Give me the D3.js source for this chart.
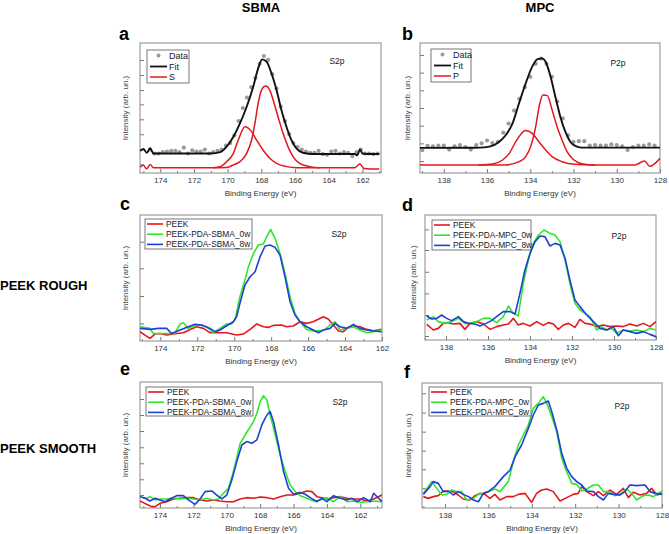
<!DOCTYPE html>
<html>
<head>
<meta charset="utf-8">
<script src="https://cdn.jsdelivr.net/npm/d3@7"></script>
<style>
body{margin:0;background:#fff}
svg{display:block;font-family:"Liberation Sans",Arial,sans-serif}
</style>
</head>
<body>
<div id="container"></div>
<script>
// ---- tick labels / categories
var sTicks = [174,172,170,168,166,164,162];
var pTicks = [138,136,134,132,130,128];
var sLegend = ["PEEK","PEEK-PDA-SBMA_0w","PEEK-PDA-SBMA_8w"];
var pLegend = ["PEEK","PEEK-PDA-MPC_0w","PEEK-PDA-MPC_8w"];
var fitLegendS = ["Data","Fit","S"];
var fitLegendP = ["Data","Fit","P"];

// unlabelled intensity ticks (arb. un.)
var yTicksA = [6.7,18.2,29.8,41.3,52.8,63.8,75.4,86.9];
var yTicksB = [9.2,22.8,36.4,50,63.6,77.2,90.8];
var yTicksC = [14,35.7,57.7,78.8];
var yTicksD = [3.2,20,37.3,54.6,72,88.5];
var yTicksE = [10.3,22.8,35.5,48.2,61.1,73.8,86.5];
var yTicksF = [15.8,31,45.9,61.1,76.3,91.8];

// ---- panel a : S2p fit (binding energy eV, intensity)
var aData = [[174.6,18],[174.35,15],[174.1,15],[173.85,16],[173.6,16.5],[173.35,17],[173.1,17],[172.85,16],[172.6,19.5],[172.35,15],[172.1,17.5],[171.85,16.5],[171.6,16.5],[171.35,18],[171.1,15],[170.85,16],[170.6,17],[170.35,18],[170.1,21],[169.85,23],[169.6,29],[169.35,40],[169.1,50],[168.85,58],[168.6,66],[168.35,73],[168.1,84],[167.85,90],[167.6,87],[167.35,76],[167.1,65],[166.85,51],[166.6,40],[166.35,30],[166.1,23],[165.85,20],[165.6,18],[165.35,16.5],[165.1,15.5],[164.85,15.5],[164.6,17],[164.35,14.5],[164.1,14],[163.85,16.5],[163.6,17],[163.35,15],[163.1,16],[162.85,15.5],[162.6,13],[162.35,16],[162.1,18],[161.85,15],[161.6,15],[161.35,14.5],[161.1,15]];
var aFit = [[175.2,17],[175.0,18.5],[174.8,15.5],[174.6,19],[174.4,15],[174.2,15],[173,15],[172,15],[171,15],[170.45,16],[170.06,20.3],[169.66,27.9],[169.27,38.2],[168.87,51],[168.48,66.4],[168.19,80.5],[167.95,87.4],[167.69,85.6],[167.4,76.7],[167.1,63.8],[166.81,48.5],[166.51,35.6],[166.22,25.4],[165.92,19],[165.53,15.6],[164.94,14.6],[163,14.6],[162.45,14.6],[162.3,13.6],[162.15,18.2],[162.0,15],[161.6,14.6],[161,14.6]];
var aS1 = [[175.2,4.5],[175.0,6],[174.8,3.2],[174.6,6.5],[174.4,4.1],[174,4.1],[171,4.1],[170.06,4.3],[169.66,6.2],[169.27,8.7],[168.87,15.1],[168.58,25.4],[168.38,38.2],[168.19,53.6],[167.99,63.8],[167.75,66.9],[167.5,63.8],[167.3,56.2],[167.01,43.3],[166.71,30.5],[166.42,20.3],[166.12,12.6],[165.73,7.4],[165.14,4.9],[164.55,4.1],[162.45,4.1],[162.15,6.9],[161.9,3.4],[161.5,3.1],[161,3.0]];
var aS2 = [[170.85,4.1],[170.45,4.9],[170.06,8.7],[169.66,15.1],[169.37,25.4],[168.97,35.6],[168.58,31.8],[168.29,25.4],[167.9,17.7],[167.5,11.3],[167.1,7.4],[166.51,4.9],[165.9,4.1],[164.5,4.1]];

// ---- panel b : P2p fit
var bData = [[139.0,17.5],[138.75,20.8],[138.5,20.5],[138.25,21],[138.0,21],[137.75,18],[137.5,20.5],[137.25,21.5],[137.0,20],[136.75,18],[136.5,21.5],[136.25,22.8],[136.0,25],[135.75,23],[135.5,24],[135.25,31],[135.0,38],[134.75,48],[134.5,57],[134.25,66],[134.0,74],[133.75,84],[133.5,88],[133.25,84],[133.0,74],[132.75,55],[132.5,42],[132.25,29],[132.0,24],[131.75,24.5],[131.5,24.5],[131.25,21],[131.0,21.5],[130.75,21],[130.5,21],[130.25,22],[130.0,21.5],[129.75,20.5],[129.5,17.7],[129.25,20],[129.0,21],[128.75,21],[128.5,22],[128.25,21]];
var bFit = [[139.1,19.3],[136.35,19.5],[135.89,20.3],[135.43,24.1],[135.13,29.2],[134.82,38.2],[134.52,53.6],[134.21,69],[133.91,81.8],[133.68,87.4],[133.45,88.2],[133.29,85.6],[133.06,74.1],[132.84,58.7],[132.61,43.3],[132.38,31.8],[132.15,24.1],[131.92,20.8],[131.62,19.5],[128,19.5]];
var bP1 = [[139.1,6.2],[135.13,6.2],[134.52,8.7],[134.21,12.6],[133.98,20.3],[133.75,35.6],[133.56,53.6],[133.41,60],[133.21,59.5],[132.99,48.5],[132.76,35.6],[132.53,25.4],[132.3,16.4],[132.07,11.3],[131.77,7.9],[131.31,6.4],[130.8,6.2],[129.17,6.2],[128.71,9.2],[128.48,5.1],[128.0,11.3]];
var bP2 = [[136.4,6.2],[135.74,6.9],[135.28,10],[134.97,15.1],[134.67,24.1],[134.21,32.6],[133.91,30.5],[133.6,24.1],[133.29,17.7],[132.99,12.6],[132.53,8.7],[131.92,6.7],[131.0,6.2]];

// ---- panel c : S2p, PEEK rough
var cPeek = [[175.1,7.4],[174.83,4.7],[174.56,2.1],[174.29,5.5],[174.02,6],[173.66,4.7],[173.11,6],[172.75,6.6],[172.39,9.2],[172.03,11.3],[171.67,10],[171.31,6.6],[170.95,6.8],[170.41,6.6],[169.87,4.7],[169.51,5.5],[169.14,9.2],[168.78,13.5],[168.42,11.3],[168.15,10.8],[167.88,12.4],[167.43,12.7],[167.16,11.3],[166.8,11.9],[166.44,15.3],[166.08,14],[165.72,15.3],[165.45,17.2],[165.17,19.3],[164.9,17.2],[164.63,12.7],[164.36,7.9],[164.09,7.4],[163.82,10.8],[163.55,11.9],[163.19,11.3],[162.83,9.2],[162.47,8.2],[162.02,9.2]];
var c0w = [[175.1,11.3],[174.56,10],[174.38,6],[173.66,6],[173.21,6],[172.93,13.5],[172.75,14.5],[172.48,10],[172.21,11.9],[171.85,12.7],[171.49,11.3],[171.13,6.6],[170.77,10],[170.41,13.5],[170.14,13.5],[169.96,16.6],[169.69,35.2],[169.42,48.4],[169.23,59],[168.96,69.5],[168.69,76.2],[168.42,77],[168.24,82.8],[168.03,88.6],[167.79,81.5],[167.52,69.5],[167.25,53.7],[166.98,35.2],[166.71,21.9],[166.44,15.3],[166.08,9.2],[165.72,7.9],[165.35,8.2],[165.08,9.2],[164.81,12.7],[164.54,15.3],[164.27,8.7],[163.91,10],[163.55,11.3],[163.19,8.7],[162.83,6.6],[162.47,7.4],[162.02,8.7]];
var c8w = [[175.1,10],[174.56,9.2],[174.11,10],[173.66,10],[173.39,6],[172.93,8.7],[172.48,11.3],[172.12,13.2],[171.76,12.7],[171.31,10],[171.04,7.4],[170.77,8.7],[170.41,12.1],[170.05,15.3],[169.87,19.3],[169.69,29.9],[169.42,44.4],[169.14,51],[168.87,55],[168.6,66.9],[168.33,75.4],[168.06,76.2],[167.79,74.3],[167.52,68.2],[167.25,51],[166.98,31.2],[166.71,20.6],[166.44,15.3],[166.08,11.3],[165.72,8.7],[165.45,6.6],[165.17,8.7],[164.81,10],[164.54,14],[164.27,11.3],[163.91,10],[163.55,13.2],[163.19,10],[162.83,8.7],[162.47,7.9],[162.02,7.4]];

// ---- panel d : P2p, PEEK rough
var dPeek = [[138.92,12.5],[138.6,8],[138.37,9.3],[138.13,13.3],[137.89,13.9],[137.65,12.8],[137.33,13.3],[137.1,8.5],[136.86,13.3],[136.54,14.7],[136.22,12.8],[135.9,8.5],[135.59,10.7],[135.27,12],[135.03,12.8],[134.79,17.3],[134.56,12],[134.32,13.3],[134.0,11.2],[133.68,14.7],[133.37,11.7],[133.13,13.9],[132.89,12.8],[132.65,8.5],[132.41,12],[132.17,13.3],[131.86,10.1],[131.62,16.5],[131.38,13.3],[131.14,12.8],[130.83,10.7],[130.51,12],[130.19,10.7],[129.87,11.2],[129.56,10.7],[129.24,12.8],[128.92,11.2],[128.6,13.3],[128.29,10.7],[128.0,14.7]];
var d0w = [[138.92,16],[138.6,18.7],[138.37,14.7],[138.05,13.3],[137.73,14.7],[137.41,17.3],[137.1,13.3],[136.86,13.3],[136.54,14.7],[136.22,17.3],[135.9,17.3],[135.59,13.9],[135.27,18.7],[135.03,27.2],[134.79,21.3],[134.56,19.2],[134.32,45.3],[134.08,64],[133.84,77.3],[133.6,84],[133.33,88],[133.05,85.3],[132.81,84],[132.57,78.7],[132.33,64],[132.1,45.3],[131.86,29.3],[131.62,24],[131.38,21.3],[131.14,18.7],[130.83,8],[130.59,10.7],[130.35,8],[130.11,9.3],[129.87,5.3],[129.56,8],[129.24,7.2],[128.92,8],[128.6,6.7],[128.29,9.3],[128.0,8]];
var d8w = [[138.92,19.2],[138.68,16.8],[138.44,17.3],[138.21,20],[137.97,17.3],[137.73,15.5],[137.41,18.7],[137.17,14.7],[136.94,13.3],[136.62,12.8],[136.38,11.2],[136.1,13.3],[135.83,15.5],[135.59,18.7],[135.27,22.7],[134.95,22.7],[134.71,20.8],[134.48,37.3],[134.24,56],[134.0,69.3],[133.76,78.7],[133.52,83.2],[133.29,82.7],[133.05,75.2],[132.81,77.3],[132.57,76],[132.33,65.3],[132.1,48],[131.86,32],[131.62,26.7],[131.3,20],[130.98,14.7],[130.67,9.3],[130.35,8],[130.03,10.7],[129.79,3.4],[129.56,8],[129.24,6.7],[128.92,5.3],[128.6,6.7],[128.29,4.5],[128.0,2.7]];

// ---- panel e : S2p, PEEK smooth
var ePeek = [[175.2,5.6],[174.8,2.9],[174.5,1.1],[174.3,1.1],[174.0,3.7],[173.6,5],[173.2,7.2],[172.8,7.7],[172.4,8.2],[172.0,8.2],[171.6,6.4],[171.2,5.6],[170.8,6.4],[170.4,5.6],[170.0,5],[169.6,5],[169.2,7.2],[168.8,8.2],[168.4,7.7],[168.0,8.7],[167.6,8.2],[167.2,7.2],[166.8,9],[166.4,10.3],[166.0,10.3],[165.6,11.7],[165.2,13.5],[164.9,13],[164.6,9],[164.3,8.2],[164.0,7.2],[163.6,8.2],[163.2,9],[162.8,7.7],[162.4,7.2],[162.0,7.2],[161.6,5.6],[161.2,7.2],[160.7,10.3]];
var e0w = [[175.2,9],[174.8,7.7],[174.6,9],[174.3,6.4],[173.9,7.2],[173.6,7.2],[173.2,8.2],[172.8,7.2],[172.4,7.7],[172.0,7.2],[171.6,6.4],[171.2,7.7],[170.8,6.4],[170.5,7.2],[170.2,11.7],[169.9,15.6],[169.6,28.9],[169.2,51.3],[168.8,60.1],[168.4,68.5],[168.2,75.2],[168.0,84.4],[167.8,89.2],[167.6,85.7],[167.4,73.8],[167.1,58],[166.8,42.1],[166.5,28.9],[166.2,18.3],[165.9,13],[165.6,9.8],[165.2,7.7],[164.8,5.6],[164.4,6.4],[164.0,8.2],[163.6,5],[163.2,9],[162.8,5],[162.4,5.6],[162.0,4.5],[161.6,5],[161.2,5.6],[160.7,5]];
var e8w = [[175.2,9],[174.9,7.7],[174.6,5.6],[174.3,7.7],[174.0,6.4],[173.7,5],[173.4,7.2],[173.0,9.8],[172.6,9.8],[172.3,6.4],[171.9,2.9],[171.6,7.2],[171.3,13],[170.9,13.5],[170.6,10.3],[170.3,7.2],[170.0,10.3],[169.7,22.2],[169.4,36.8],[169.1,50],[168.8,52.7],[168.5,51.3],[168.2,54],[167.9,65.9],[167.6,73.8],[167.4,76.5],[167.2,68.5],[166.9,50],[166.6,28.9],[166.3,15.6],[166.0,10.9],[165.6,12.4],[165.3,10.9],[165.0,8.2],[164.6,5],[164.3,7.7],[164.0,5],[163.6,9.8],[163.2,7.7],[162.8,6.4],[162.5,7.7],[162.2,5],[161.8,8.2],[161.4,5],[161.2,11.7],[160.9,7.7],[160.7,5]];

// ---- panel f : P2p, PEEK smooth
var fPeek = [[139.0,9.1],[138.77,7.7],[138.54,9.1],[138.31,9.9],[138.08,13.6],[137.85,13.1],[137.62,13.1],[137.39,10.4],[137.16,7.2],[136.85,6.4],[136.62,9.9],[136.39,11.7],[136.16,10.9],[135.93,7.7],[135.7,10.9],[135.47,6.4],[135.16,9.1],[134.85,9.1],[134.62,10.9],[134.31,11.7],[134.01,4.5],[133.78,11.7],[133.55,14.4],[133.31,15.2],[133.01,13.1],[132.7,5.6],[132.39,8.3],[132.09,10.9],[131.86,11.7],[131.7,17.1],[131.47,13.1],[131.16,9.9],[130.93,13.1],[130.7,9.9],[130.4,14.4],[130.09,10.9],[129.78,15.7],[129.55,8.3],[129.32,12.6],[129.01,10.4],[128.71,11.7],[128.48,15.7],[128.23,10.4],[128.0,11.7]];
var f0w = [[139.0,11.7],[138.61,21.1],[138.38,15.7],[138.15,10.4],[137.92,10.9],[137.69,14.4],[137.46,13.1],[137.23,13.1],[137.0,6.4],[136.69,7.7],[136.46,10.9],[136.23,11.7],[135.93,13.6],[135.7,15.2],[135.47,13.1],[135.08,21.1],[134.85,37.1],[134.62,50.4],[134.39,58.4],[134.16,66.4],[133.93,79.7],[133.7,83.7],[133.47,89.1],[133.31,83.7],[133.08,73.1],[132.85,61.1],[132.62,39.7],[132.39,29.1],[132.16,19.7],[131.93,18.9],[131.7,13.6],[131.47,15.2],[131.16,18.4],[130.93,18.4],[130.7,13.1],[130.4,13.1],[130.17,9.9],[129.94,10.9],[129.63,15.2],[129.4,11.7],[129.17,6.4],[128.86,9.9],[128.63,10.4],[128.4,9.1],[128.0,13.6]];
var f8w = [[139.0,10.9],[138.69,17.1],[138.54,21.1],[138.31,19.7],[138.08,13.1],[137.85,13.6],[137.62,10.4],[137.39,13.1],[137.16,10.9],[136.92,9.1],[136.69,6.4],[136.46,5],[136.23,11.7],[136.0,13.1],[135.7,17.1],[135.31,25.1],[135.0,30.4],[134.77,41.1],[134.47,50.4],[134.16,63.7],[133.93,74.4],[133.7,82.4],[133.47,83.7],[133.24,85.6],[133.08,77.1],[132.85,62.4],[132.62,43.7],[132.39,31.7],[132.16,25.1],[131.93,21.1],[131.7,18.4],[131.47,13.6],[131.16,13.1],[130.93,9.1],[130.7,6.4],[130.47,11.7],[130.24,10.9],[129.94,10.4],[129.71,13.1],[129.48,18.4],[129.17,17.9],[128.78,18.4],[128.55,13.1],[128.32,11.7],[128.0,10.9]];

var RED = "#e4171d", GREEN = "#2fe62f", BLUE = "#1e40d6";

var panels = [
  {letter:"a", box:[140,43,381,173], dom:[175.2,160.9], ticks:sTicks, yTicks:yTicksA, tag:"S2p", tagAt:[337,64], letterAt:[119,40], ylabX:125,
   dots:aData, fit:aFit, comps:[aS1,aS2], legend:fitLegendS, legBox:[147,50,42,33]},
  {letter:"b", box:[420,43,660,173], dom:[139.1,128], ticks:pTicks, yTicks:yTicksB, tag:"P2p", tagAt:[618,66], letterAt:[402,40], ylabX:407,
   dots:bData, fit:bFit, comps:[bP1,bP2], legend:fitLegendP, legBox:[431,49,40,33]},
  {letter:"c", box:[140,215,382,341], dom:[175.1,162], ticks:sTicks, yTicks:yTicksC, tag:"S2p", tagAt:[339,237], letterAt:[120,210], ylabX:125,
   lines:[cPeek,c0w,c8w], legend:sLegend, legBox:[145,219,107,30]},
  {letter:"d", box:[425,215,656,340], dom:[139,128], ticks:pTicks, yTicks:yTicksD, tag:"P2p", tagAt:[619,239], letterAt:[402,211], ylabX:413,
   lines:[dPeek,d0w,d8w], legend:pLegend, legBox:[432,220,99,30]},
  {letter:"e", box:[140,382,382,508], dom:[175.2,160.7], ticks:sTicks, yTicks:yTicksE, tag:"S2p", tagAt:[340,405], letterAt:[120,375], ylabX:125,
   lines:[ePeek,e0w,e8w], legend:sLegend, legBox:[146,387,107,29]},
  {letter:"f", box:[422,383,662,508], dom:[139.06,128], ticks:pTicks, yTicks:yTicksF, tag:"P2p", tagAt:[622,409], letterAt:[404,378], ylabX:408,
   lines:[fPeek,f0w,f8w], legend:pLegend, legBox:[429,387,102,29]}
];

var svg = d3.select("#container").append("svg").attr("width",669).attr("height",534);

// column / row headers
svg.append("text").attr("x",261).attr("y",12).attr("text-anchor","middle").style("font-weight","bold").style("font-size","13px").text("SBMA");
svg.append("text").attr("x",540).attr("y",12).attr("text-anchor","middle").style("font-weight","bold").style("font-size","13px").text("MPC");
svg.append("text").attr("x",0).attr("y",290).style("font-weight","bold").style("font-size","13px").text("PEEK ROUGH");
svg.append("text").attr("x",0).attr("y",453).style("font-weight","bold").style("font-size","13px").text("PEEK SMOOTH");

panels.forEach(function(p, i){
  var x0 = p.box[0], y0 = p.box[1], x1 = p.box[2], y1 = p.box[3];
  var x = d3.scaleLinear().domain(p.dom).range([x0,x1]);
  var y = d3.scaleLinear().domain([0,100]).range([y1,y0]);
  var g = svg.append("g");

  g.append("clipPath").attr("id","clip"+i).append("rect")
   .attr("x",x0).attr("y",y0).attr("width",x1-x0).attr("height",y1-y0);

  // inward ticks
  var minor = d3.range(Math.ceil(Math.min(p.dom[0],p.dom[1])), Math.max(p.dom[0],p.dom[1])+0.01, 1)
                .filter(function(d){ return p.ticks.indexOf(d) < 0; });
  var gx = g.append("g").attr("transform","translate(0,"+y1+")")
            .call(d3.axisBottom(x).tickValues(p.ticks).tickSize(-4).tickPadding(4).tickFormat(d3.format("d")));
  gx.append("g").call(d3.axisBottom(x).tickValues(minor).tickSize(-2).tickFormat(""));
  g.append("g").attr("transform","translate("+x0+",0)")
   .call(d3.axisLeft(y).tickValues(p.yTicks).tickSize(-4).tickFormat(""));
  g.selectAll(".domain").remove();
  g.selectAll(".tick line").attr("stroke","#777");
  gx.selectAll("text").style("font-size","8px").attr("fill","#333");

  g.append("rect").attr("x",x0).attr("y",y0).attr("width",x1-x0).attr("height",y1-y0)
   .attr("fill","none").attr("stroke","#8a8a8a").attr("stroke-width",1);

  g.append("text").attr("x",(x0+x1)/2).attr("y",y1+23).attr("text-anchor","middle")
   .style("font-size","8px").attr("fill","#333").text("Binding Energy (eV)");
  g.append("text").attr("transform","translate("+p.ylabX+","+((y0+y1)/2)+") rotate(-90)")
   .attr("text-anchor","middle").attr("dy","0.35em").style("font-size","8px").attr("fill","#444").text("Intensity (arb. un.)");

  g.append("text").attr("x",p.letterAt[0]).attr("y",p.letterAt[1])
   .style("font-weight","bold").style("font-size","18px").text(p.letter);
  g.append("text").attr("x",p.tagAt[0]).attr("y",p.tagAt[1]).attr("text-anchor","middle")
   .style("font-size","8.5px").attr("fill","#222").text(p.tag);

  var plot = g.append("g").attr("clip-path","url(#clip"+i+")");
  var line = d3.line().x(function(d){ return x(d[0]); }).y(function(d){ return y(d[1]); });

  if (p.fit) {
    var smooth = d3.line().x(function(d){ return x(d[0]); }).y(function(d){ return y(d[1]); }).curve(d3.curveMonotoneX);
    p.comps.forEach(function(c){
      plot.append("path").datum(c.slice().reverse()).attr("d",smooth)
          .attr("fill","none").attr("stroke",RED).attr("stroke-width",1.5);
    });
    plot.selectAll("circle.dot").data(p.dots).enter().append("circle")
        .attr("cx",function(d){ return x(d[0]); }).attr("cy",function(d){ return y(d[1]); })
        .attr("r",2.1).attr("fill","#9a9a9a");
    plot.append("path").datum(p.fit.slice().reverse()).attr("d",smooth)
        .attr("fill","none").attr("stroke","#111").attr("stroke-width",1.9);

    // legend
    var lb = p.legBox;
    var lg = g.append("g");
    lg.append("rect").attr("x",lb[0]).attr("y",lb[1]).attr("width",lb[2]).attr("height",lb[3])
      .attr("fill","#fff").attr("stroke","#555").attr("stroke-width",0.8);
    var rows = [lb[1]+5.5, lb[1]+16.5, lb[1]+27];
    lg.append("circle").attr("cx",lb[0]+11.5).attr("cy",rows[0]).attr("r",2).attr("fill","#9a9a9a");
    lg.append("line").attr("x1",lb[0]+3).attr("x2",lb[0]+20).attr("y1",rows[1]).attr("y2",rows[1]).attr("stroke","#111").attr("stroke-width",1.8);
    lg.append("line").attr("x1",lb[0]+3).attr("x2",lb[0]+20).attr("y1",rows[2]).attr("y2",rows[2]).attr("stroke",RED).attr("stroke-width",1.5);
    p.legend.forEach(function(t,k){
      lg.append("text").attr("x",lb[0]+22).attr("y",rows[k]).attr("dy","0.35em")
        .style("font-size","9px").attr("fill","#222").text(t);
    });
  } else {
    var cols = [RED, GREEN, BLUE];
    p.lines.forEach(function(s,k){
      plot.append("path").datum(s).attr("d",line)
          .attr("fill","none").attr("stroke",cols[k]).attr("stroke-width",1.6).attr("stroke-linejoin","round");
    });
    var lb2 = p.legBox;
    var lg2 = g.append("g");
    lg2.append("rect").attr("x",lb2[0]).attr("y",lb2[1]).attr("width",lb2[2]).attr("height",lb2[3])
       .attr("fill","#fff").attr("stroke","#555").attr("stroke-width",0.8);
    p.legend.forEach(function(t,k){
      var ry = lb2[1] + 5 + k*10.2;
      lg2.append("line").attr("x1",lb2[0]+2).attr("x2",lb2[0]+18).attr("y1",ry).attr("y2",ry)
         .attr("stroke",cols[k]).attr("stroke-width",1.6);
      lg2.append("text").attr("x",lb2[0]+21).attr("y",ry).attr("dy","0.35em")
         .style("font-size","8.4px").attr("fill","#222").text(t);
    });
  }
});
</script>
</body>
</html>
